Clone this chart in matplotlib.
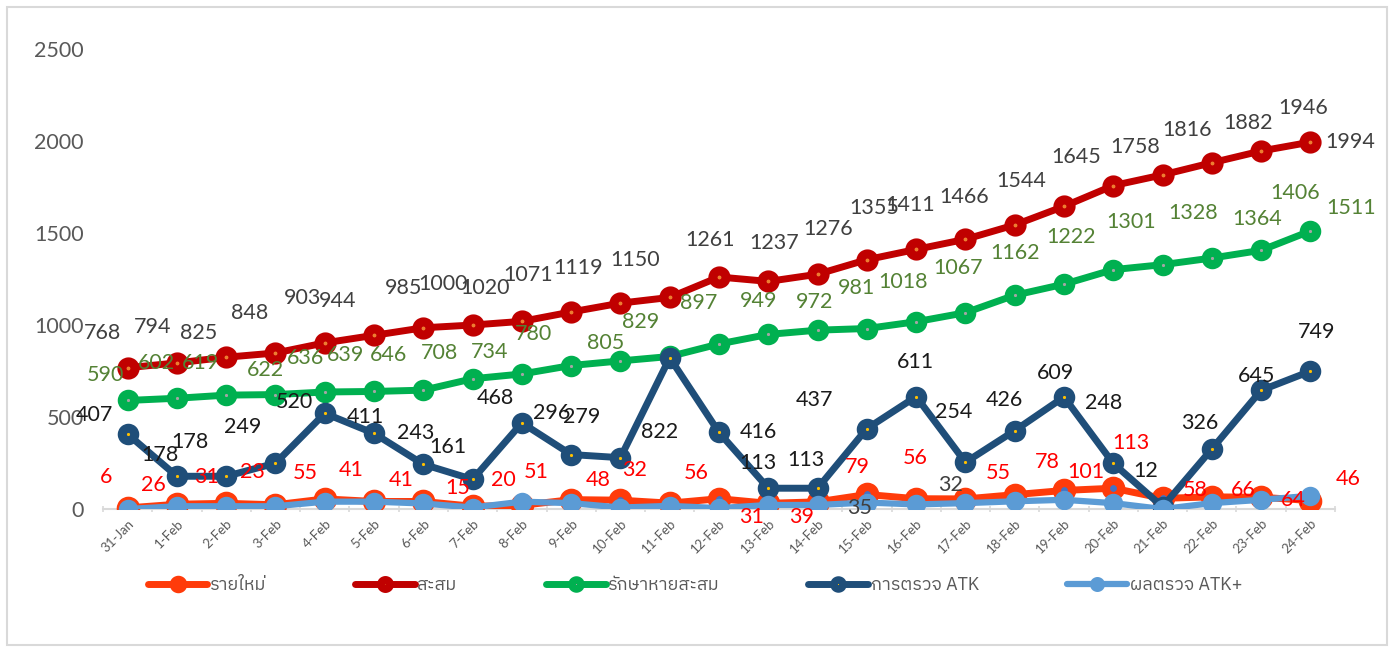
import matplotlib
matplotlib.use('Agg')
import matplotlib.pyplot as plt
import matplotlib.font_manager as fm
from matplotlib.ft2font import FT2Font
from matplotlib.patches import Rectangle

# ---- data ----
dates = ['31-Jan'] + ['%d-Feb' % d for d in range(1, 25)]
new_cases = [6, 26, 31, 23, 55, 41, 41, 15, 20, 51, 48, 32, 56, 31, 39, 79, 56, 55, 78, 101, 113, 58, 66, 64, 46]
cumulative = [768, 794, 825, 848, 903, 944, 985, 1000, 1020, 1071, 1119, 1150, 1261, 1237, 1276, 1355, 1411,
              1466, 1544, 1645, 1758, 1816, 1882, 1946, 1994]
recovered = [590, 602, 619, 622, 636, 639, 646, 708, 734, 780, 805, 829, 897, 949, 972, 981, 1018, 1067, 1162,
             1222, 1301, 1328, 1364, 1406, 1511]
atk_tests = [407, 178, 178, 249, 520, 411, 243, 161, 468, 296, 279, 822, 416, 113, 113, 437, 611, 254, 426, 609,
             248, 12, 326, 645, 749]
atk_pos = [0, 15, 15, 15, 40, 40, 30, 8, 40, 32, 8, 17, 5, 22, 22, 35, 25, 32, 42, 50, 32, 0, 32, 50, 72]
series_names = ['รายใหม่', 'สะสม', 'รักษาหายสะสม', 'การตรวจ ATK', 'ผลตรวจ ATK+']
yticks = [0, 500, 1000, 1500, 2000, 2500]

# label nudges in pixels (dx, dy up), as placed in the original
new_off = [(-22, 31), (-24, 19), (-20, 26), (-23, 33), (-19, 26), (-23, 31), (-22, 21), (-15, 18), (-19, 25),
           (-35, 28), (-22, 20), (-35, 33), (-23, 26), (-17, -14), (-16, -15), (-9, 27), (-1, 41), (33, 26),
           (33, 33), (22, 18), (18, 45), (33, 8), (31, 7), (32, -3), (38, 22)]
cum_off = [(-25, 35), (-24, 36), (-28, 24), (-26, 40), (-22, 45), (-36, 34), (-20, 40), (-30, 41), (-37, 33),
           (-43, 37), (-42, 35), (-35, 37), (-9, 37), (6, 38), (11, 45), (7, 52), (-6, 44), (-1, 42), (7, 44),
           (12, 49), (22, 39), (24, 45), (36, 40), (42, 43), (40, 0)]
rec_off = [(-22, 25), (-21, 35), (-26, 32), (-10, 25), (-19, 34), (-28, 36), (-35, 35), (-33, 26), (-32, 22),
           (-38, 32), (-15, 18), (-29, 34), (-20, 41), (-10, 33), (-3, 28), (-10, 41), (-13, 40), (-7, 45),
           (0, 42), (7, 47), (18, 48), (31, 52), (45, 39), (34, 57), (41, 23)]
atk_off = [(-33, 19), (-17, 21), (-36, 34), (-33, 36), (-30, 11), (-9, 16), (-8, 31), (-25, 32), (-27, 25),
           (-20, 42), (-39, 41), (-10, -74), (39, 0), (-10, 25), (-12, 28), (-52, 29), (-1, 35), (-12, 50),
           (-10, 31), (-8, 24), (-10, 60), (-17, 36), (-12, 26), (-5, 14), (6, 39)]
pos_off = {15: (-7, -5), 17: (-15, 18)}

# find a font that has Thai glyphs
thai_font = None
for f in sorted(fm.fontManager.ttflist, key=lambda f: ('Sans' not in f.name, f.name)):
    try:
        if 0x0E23 in FT2Font(f.fname).get_charmap():
            thai_font = f.name
            break
    except Exception:
        pass
num_font = 'Lato'
legend_family = ([thai_font] if thai_font else []) + ['DejaVu Sans']

plt.rcParams['font.family'] = [num_font, 'DejaVu Sans']

fig = plt.figure(figsize=(13.94, 6.52), dpi=100)
ax = fig.add_axes([0.0739, 0.2193, 0.8838, 0.7055])

x = list(range(len(dates)))
styles = [
    (new_cases, '#FF3B0A', '#4472C4', 5, 11, 6, '#FF0000'),
    (cumulative, '#C00000', '#ED7D31', 5, 9.5, 6.5, '#404040'),
    (recovered, '#00B050', '#A5A5A5', 5, 9, 6.5, '#548235'),
    (atk_tests, '#1F4E79', '#FFC000', 5, 9, 6.5, '#1A1A1A'),
    (atk_pos, '#5B9BD5', '#5B9BD5', 4.5, 8, 6, '#404040'),
]
lines = []
for (vals, col, dot, lw, ms, mew, _), name in zip(styles, series_names):
    ln, = ax.plot(x, vals, color=col, lw=lw, marker='o', ms=ms, mew=mew,
                  mec=col, mfc=dot, label=name, solid_capstyle='round')
    lines.append(ln)

# data labels
lab_size = 15.5
for vals, offs, col in [(new_cases, new_off, styles[0][6]), (cumulative, cum_off, styles[1][6]),
                        (recovered, rec_off, styles[2][6]), (atk_tests, atk_off, styles[3][6])]:
    for i, v in enumerate(vals):
        ax.annotate(str(v), (i, v), xytext=offs[i], textcoords='offset pixels',
                    ha='center', va='center', fontsize=lab_size, color=col, zorder=10)
for i, off in pos_off.items():
    ax.annotate(str(atk_pos[i]), (i, atk_pos[i]), xytext=off, textcoords='offset pixels',
                ha='center', va='center', fontsize=lab_size, color=styles[4][6], zorder=10)

ax.set_xlim(-0.5, len(dates) - 0.5)
ax.set_ylim(0, 2500)
ax.set_yticks(yticks)
ax.set_yticklabels([str(t) for t in yticks], fontsize=15.5, color='#595959')
ax.tick_params(axis='y', length=0, pad=14)
ax.set_xticks(x)
ax.set_xticklabels(dates, rotation=45, ha='right', va='top', rotation_mode='anchor',
                   fontsize=9.5, color='#595959')
ax.tick_params(axis='x', length=0, pad=6)
ax.set_xticks([i - 0.5 for i in range(len(dates) + 1)], minor=True)
ax.tick_params(axis='x', which='minor', length=5, color='#D9D9D9', width=1.2, direction='inout')
for s in ['top', 'right', 'left']:
    ax.spines[s].set_visible(False)
ax.spines['bottom'].set_color('#D9D9D9')
ax.spines['bottom'].set_linewidth(1.5)
ax.spines['bottom'].set_zorder(0)

leg = fig.legend(handles=lines, labels=series_names, loc='center', bbox_to_anchor=(0.4986, 0.103),
                 ncol=5, frameon=False, prop=fm.FontProperties(family=legend_family, size=13),
                 labelcolor='#595959', handlelength=3.3, handletextpad=0.15, columnspacing=4.9,
                 markerscale=0.6)

fig.patches.append(Rectangle((7 / 1394, 7 / 652), 1380 / 1394, 638 / 652, transform=fig.transFigure,
                             fill=False, edgecolor='#D9D9D9', lw=1.5))

fig.savefig('out.png', dpi=100)
